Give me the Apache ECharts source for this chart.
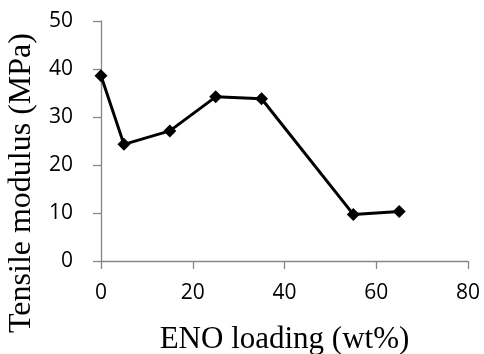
<!DOCTYPE html>
<html>
<head>
<meta charset="utf-8">
<script src="https://cdn.jsdelivr.net/npm/echarts@6/dist/echarts.min.js"></script>
<style>html,body{margin:0;padding:0;background:#fff;}#c{width:484px;height:354px;}</style>
</head>
<body>
<div id="c"></div>
<script>
var enoLoading = [0, 5, 15, 25, 35, 55, 65];
var tensileModulus = [38.6, 24.3, 27.1, 34.2, 33.8, 9.7, 10.3];
var xTicks = [0, 20, 40, 60, 80];
var yTicks = [0, 10, 20, 30, 40, 50];
var xTitle = 'ENO loading (wt%)';
var yTitle = 'Tensile modulus (MPa)';

var chart = echarts.init(document.getElementById('c'), null, {renderer: 'canvas'});
var axisColor = '#868686';
var labelFont = {color: '#000', fontFamily: 'Open Sans', fontSize: 21};
chart.setOption({
  animation: false,
  backgroundColor: '#fff',
  grid: {left: 101, right: 16, top: 21, bottom: 93, containLabel: false, outerBoundsMode: 'none'},
  xAxis: {
    type: 'value', min: xTicks[0], max: xTicks[xTicks.length - 1], interval: 20,
    name: xTitle, nameLocation: 'middle', nameGap: 63,
    nameTextStyle: {fontFamily: 'Liberation Serif', fontSize: 31, color: '#000'},
    axisLine: {show: true, lineStyle: {color: axisColor, width: 1.3}},
    axisTick: {show: true, length: 8, lineStyle: {color: axisColor, width: 1.3}},
    axisLabel: Object.assign({margin: 22}, labelFont),
    splitLine: {show: false}
  },
  yAxis: {
    type: 'value', min: yTicks[0], max: yTicks[yTicks.length - 1], interval: 10,
    name: yTitle, nameLocation: 'middle', nameGap: 58,
    nameTextStyle: {fontFamily: 'Liberation Serif', fontSize: 32, color: '#000', padding: [0, 84, 0, 0]},
    axisLine: {show: true, lineStyle: {color: axisColor, width: 1.3}},
    axisTick: {show: true, length: 8, lineStyle: {color: axisColor, width: 1.3}},
    axisLabel: Object.assign({margin: 28}, labelFont),
    splitLine: {show: false}
  },
  series: [{
    type: 'line',
    data: enoLoading.map(function (x, i) { return [x, tensileModulus[i]]; }),
    symbol: 'diamond', symbolSize: 13,
    lineStyle: {color: '#000', width: 3},
    itemStyle: {color: '#000'}
  }]
});
</script>
</body>
</html>
